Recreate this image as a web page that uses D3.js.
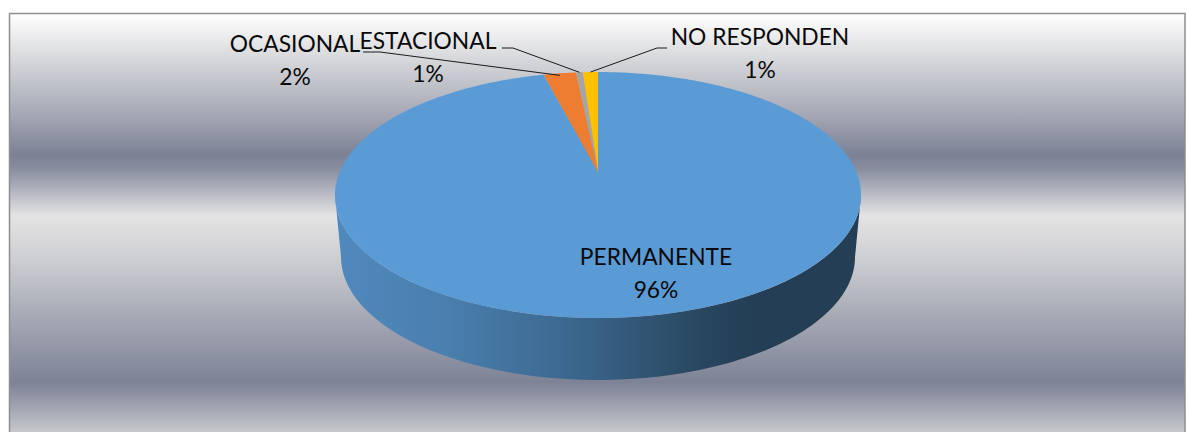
<!DOCTYPE html>
<html>
<head>
<meta charset="utf-8">
<script src="https://cdn.jsdelivr.net/npm/d3@7"></script>
<style>
  html, body { margin: 0; padding: 0; background: #fff; overflow: hidden; }
  svg { display: block; }
  text { font-family: Lato, "Open Sans", sans-serif; font-size: 22.8px; fill: #0a0a0a; text-anchor: middle; }
</style>
</head>
<body>
<script>
// Chart data
var categories = ["PERMANENTE", "OCASIONAL", "ESTACIONAL", "NO RESPONDEN"];
var values = [96.0, 2.4, 0.5, 1.1];
var percentLabels = ["96%", "2%", "1%", "1%"];
var colors = ["#5b9bd5", "#ed7d31", "#a5a5a5", "#ffc000"];

var width = 1188, height = 432;

// Perspective of the pie top: apex sits above the middle of the ellipse
var cx = 598, apexY = 172, radius = 258.4;
var persp = -0.187, yScale = 86.5;
var depth = 62, bottomShrink = 0.977;

function project(angle, r) {
  var u = Math.sin(angle) * r, v = -Math.cos(angle) * r;
  var w = 1 + persp * v;
  return [cx + radius * u / w, (yScale * v + apexY) / w];
}
function projectBottom(angle) {
  var p = project(angle, 1);
  return [cx + (p[0] - cx) * bottomShrink, p[1] + depth];
}

var line = d3.line();
var pie = d3.pie().sort(null)(values);

var svg = d3.select("body").append("svg")
  .attr("width", width)
  .attr("height", height);
var defs = svg.append("defs");

// Silver background fill
var bgStops = [
  [14, "#ffffff"], [60, "#d6d7da"], [110, "#a9acb8"], [155, "#7c8195"], [168, "#878c9e"],
  [192, "#b5b7c2"], [205, "#cfd0d4"], [216, "#e4e4e4"], [260, "#cdced2"],
  [320, "#a4a7b3"], [382, "#7d8296"], [400, "#979aa9"], [432, "#c7c8cc"]
];
var bg = defs.append("linearGradient").attr("id", "bg")
  .attr("gradientUnits", "userSpaceOnUse")
  .attr("x1", 0).attr("x2", 0).attr("y1", 14).attr("y2", 432);
bg.selectAll("stop").data(bgStops).enter().append("stop")
  .attr("offset", function(d) { return (d[0] - 14) / (432 - 14); })
  .attr("stop-color", function(d) { return d[1]; });

// Side wall shading
var sideStops = [
  [0, "#4f89bd"], [0.2, "#4a7fae"], [0.42, "#3d6a92"], [0.58, "#315675"], [0.7, "#28465f"], [0.8, "#233e55"], [1, "#233e55"]
];
var side = defs.append("linearGradient").attr("id", "side")
  .attr("gradientUnits", "userSpaceOnUse")
  .attr("x1", 340).attr("x2", 860).attr("y1", 0).attr("y2", 0);
side.selectAll("stop").data(sideStops).enter().append("stop")
  .attr("offset", function(d) { return d[0]; })
  .attr("stop-color", function(d) { return d[1]; });

svg.append("rect")
  .attr("x", 9.5).attr("y", 13.5)
  .attr("width", 1175.5).attr("height", 440)
  .attr("fill", "url(#bg)")
  .attr("stroke", "#8e8e8e")
  .attr("stroke-width", 1.5);

// Side wall, front half of the first slice
var frontA = Math.acos(persp), frontB = 2 * Math.PI - Math.acos(persp);
var frontAngles = d3.range(0, 121).map(function(i) { return frontA + (frontB - frontA) * i / 120; });
var wall = frontAngles.map(function(a) { return project(a, 1); })
  .concat(frontAngles.slice().reverse().map(projectBottom));
svg.append("path")
  .attr("d", line(wall) + "Z")
  .attr("fill", "url(#side)");

// Top face slices
svg.selectAll("path.slice")
  .data(pie)
  .enter().append("path")
  .attr("class", "slice")
  .attr("fill", function(d, i) { return colors[i]; })
  .attr("d", function(d) {
    var n = Math.max(4, Math.ceil((d.endAngle - d.startAngle) * 60));
    var pts = d3.range(0, n + 1).map(function(i) {
      return project(d.startAngle + (d.endAngle - d.startAngle) * i / n, 1);
    });
    pts.unshift([cx, apexY]);
    return line(pts) + "Z";
  });

// Label positions, one entry per slice
var labelPos = [
  { x: 656, y1: 265, y2: 298 },
  { x: 295, y1: 52, y2: 85 },
  { x: 428, y1: 49, y2: 82 },
  { x: 760, y1: 45, y2: 78 }
];
var leaderElbows = [null, [[363, 52], [380, 52]], [[502, 48], [513, 48]], [[667, 48], [657, 48]]];

pie.forEach(function(d, i) {
  svg.append("text").attr("x", labelPos[i].x).attr("y", labelPos[i].y1).text(categories[i]);
  svg.append("text").attr("x", labelPos[i].x).attr("y", labelPos[i].y2).text(percentLabels[i]);
  if (leaderElbows[i]) {
    var mid = project((d.startAngle + d.endAngle) / 2, 1);
    svg.append("path")
      .attr("d", line(leaderElbows[i].concat([[mid[0], mid[1] + (i === 1 ? 2 : 0)]])))
      .attr("fill", "none")
      .attr("stroke", "#1a1a1a")
      .attr("stroke-width", 1);
  }
});
</script>
</body>
</html>
